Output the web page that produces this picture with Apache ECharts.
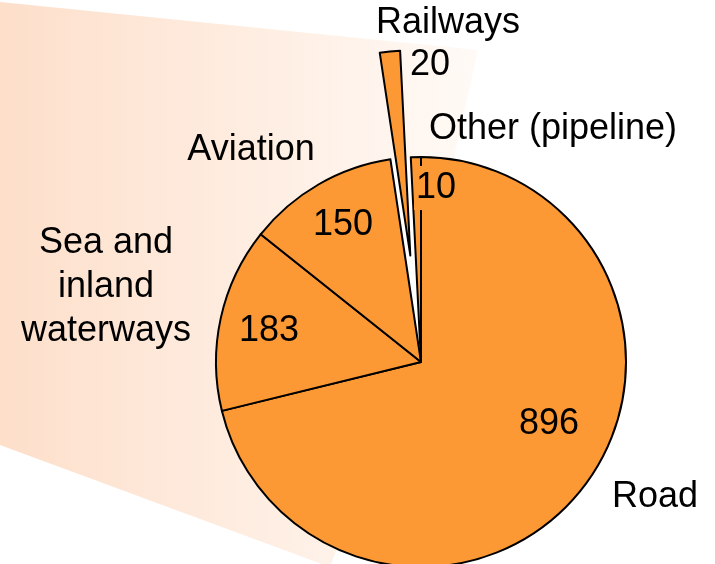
<!DOCTYPE html>
<html>
<head>
<meta charset="utf-8">
<script src="https://cdn.jsdelivr.net/npm/echarts@6/dist/echarts.min.js"></script>
<style>
  html, body { margin: 0; padding: 0; background: #fff; }
  #main { width: 715px; height: 564px; }
</style>
</head>
<body>
<div id="main"></div>
<script>
// data
var categories = ["Road", "Sea and\ninland\nwaterways", "Aviation", "Railways", "Other (pipeline)"];
var values = [896, 183, 150, 20, 10];
var exploded = ["Railways"];

// where the labels sit (manual placement, like the original slide)
var nameSpots = [[655, 497], [106, 287], [251, 150], [448, 23], [553, 129]];
var valueSpots = [[549, 424], [269, 331], [343, 225], [430, 65], [436, 188]];

var orange = "#fd9934";
var font = "'Liberation Sans', Arial, sans-serif";
var pieCenter = [421, 362];
var pieRadius = 205;

var myChart = echarts.init(document.getElementById("main"), null, { renderer: "canvas" });

// transparent copy of the pie that only carries text
function labelSeries(fmt, spots, z) {
  return {
    type: "pie",
    z: z,
    silent: true,
    center: pieCenter,
    radius: pieRadius,
    startAngle: 90,
    avoidLabelOverlap: false,
    itemStyle: { color: "rgba(0,0,0,0)", borderWidth: 0 },
    label: {
      show: true,
      position: "outside",
      formatter: fmt,
      color: "#000",
      fontFamily: font,
      fontSize: 36,
      lineHeight: 44,
      align: "center",
    },
    labelLine: { show: false },
    labelLayout: function (params) {
      var p = spots[params.dataIndex];
      return { x: p[0], y: p[1], align: "center", verticalAlign: "middle" };
    },
    data: categories.map(function (c, i) {
      var item = { name: c, value: values[i] };
      if (fmt === "{c}" && c === "Other (pipeline)") {
        // label box hides the slice edge behind the number
        item.label = { backgroundColor: orange, padding: [0, 2, 0, 2] };
      }
      return item;
    }),
  };
}

myChart.setOption({
  animation: false,
  graphic: [
    {
      type: "polygon",
      z: 0,
      silent: true,
      shape: { points: [[0, 2], [478, 50], [408, 362], [330, 567], [0, 445]] },
      style: {
        fill: new echarts.graphic.LinearGradient(0, 0, 1, 0, [
          { offset: 0, color: "#fddfca" },
          { offset: 1, color: "#fffaf6" },
        ]),
      },
    },
  ],
  series: [
    {
      // white under the pie, so the gap left by the pulled-out slice is blank
      type: "pie",
      z: 1,
      silent: true,
      center: pieCenter,
      radius: pieRadius,
      label: { show: false },
      labelLine: { show: false },
      itemStyle: { color: "#ffffff", borderWidth: 0 },
      data: [{ name: "", value: 1 }],
    },
    {
      type: "pie",
      z: 2,
      center: pieCenter,
      radius: pieRadius,
      startAngle: 90,
      clockwise: true,
      selectedMode: "single",
      selectedOffset: 107,
      emphasis: { disabled: true, scale: false },
      itemStyle: { color: orange, borderColor: "#000", borderWidth: 2 },
      select: { itemStyle: { color: orange, borderColor: "#000", borderWidth: 2 } },
      label: { show: false },
      labelLine: { show: false },
      data: categories.map(function (c, i) {
        return { name: c, value: values[i], selected: exploded.indexOf(c) >= 0 };
      }),
    },
    labelSeries("{c}", valueSpots, 3),
    labelSeries("{b}", nameSpots, 4),
  ],
});

window.addEventListener("resize", function () {
  myChart.resize();
});
</script>
</body>
</html>
